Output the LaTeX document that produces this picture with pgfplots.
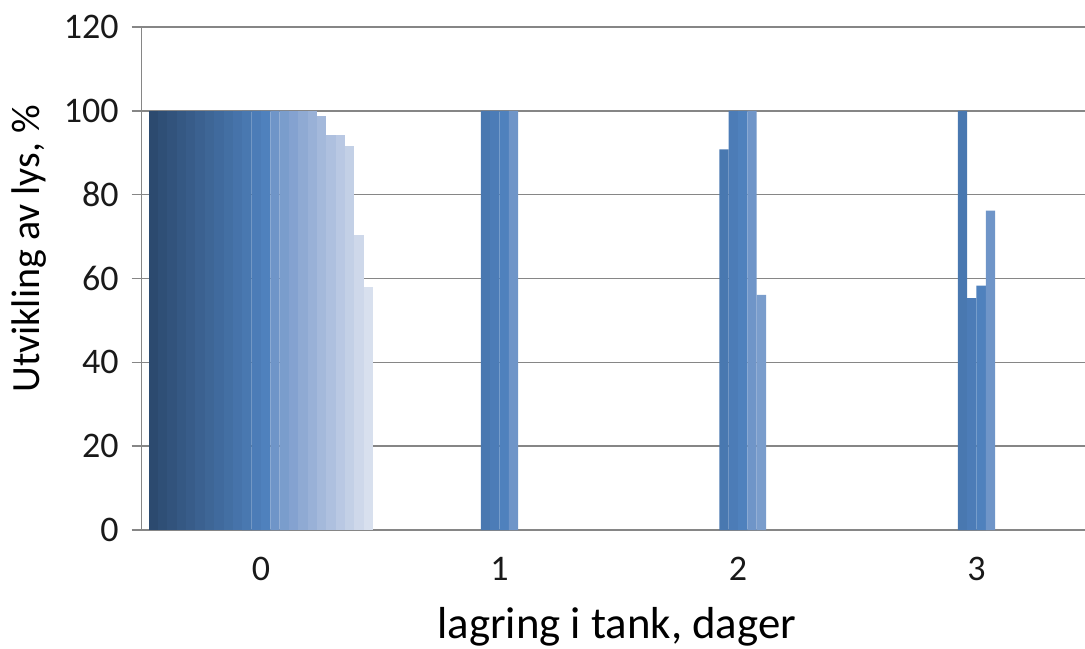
\documentclass[border=0pt]{standalone}
\usepackage{pgfplots}
\pgfplotsset{compat=1.18}
\usepackage{fontspec}
\setmainfont{Carlito}
\definecolor{gridgray}{RGB}{134,134,134}
\definecolor{s0}{RGB}{44,74,111}
\definecolor{s1}{RGB}{47,79,118}
\definecolor{s2}{RGB}{50,83,124}
\definecolor{s3}{RGB}{53,88,131}
\definecolor{s4}{RGB}{56,92,137}
\definecolor{s5}{RGB}{59,97,144}
\definecolor{s6}{RGB}{62,102,150}
\definecolor{s7}{RGB}{64,106,157}
\definecolor{s8}{RGB}{67,111,163}
\definecolor{s9}{RGB}{70,115,170}
\definecolor{s10}{RGB}{73,120,176}
\definecolor{s11}{RGB}{76,124,183}
\definecolor{s12}{RGB}{79,129,189}
\definecolor{s13}{RGB}{111,149,200}
\definecolor{s14}{RGB}{122,157,204}
\definecolor{s15}{RGB}{132,162,208}
\definecolor{s16}{RGB}{143,170,211}
\definecolor{s17}{RGB}{153,177,215}
\definecolor{s18}{RGB}{164,185,219}
\definecolor{s19}{RGB}{174,192,223}
\definecolor{s20}{RGB}{185,200,227}
\definecolor{s21}{RGB}{195,208,230}
\definecolor{s22}{RGB}{206,216,234}
\definecolor{s23}{RGB}{216,224,238}
\begin{document}
\begin{tikzpicture}
\begin{axis}[
  scale only axis,
  width=471.65pt, height=251.5pt,
  xmin=-0.5, xmax=3.455,
  ymin=0, ymax=120,
  ybar, bar width=0.0392157,
  axis x line=bottom, axis y line=left,
  axis line style={-, draw=gridgray, line width=0.75pt},
  ymajorgrids, grid style={gridgray, line width=0.75pt},
  xtick={0,1,2,3},
  xticklabels={0,1,2,3},
  xtick style={draw=none},
  extra x ticks={-0.5,0.5,1.5,2.5},
  extra x tick labels={},
  extra x tick style={grid=none, tick style={draw=gridgray, line width=0.75pt}},
  ytick={0,20,40,60,80,100,120},
  tick align=outside, major tick length=5pt,
  tick style={gridgray, line width=0.75pt},
  /pgf/number format/assume math mode=true,
  ticklabel style={font=\fontsize{18}{20}\selectfont, text=black!90},
  yticklabel style={xshift=-3pt},
  xticklabel style={anchor=base, yshift=-20pt},
  xlabel={lagring i tank, dager},
  ylabel={Utvikling av lys, \%},
  xlabel style={at={(axis description cs:0.5036,0)}, anchor=base, yshift=-54pt, font=\fontsize{22.4}{26}\selectfont},
  ylabel style={at={(axis description cs:-0.1195,0.559)}, anchor=center, font=\fontsize{20}{24}\selectfont},
  every axis plot/.append style={draw=none},
]
\addplot[fill=s0, bar shift=-0.450980] coordinates {(0,100)};
\addplot[fill=s1, bar shift=-0.411765] coordinates {(0,100)};
\addplot[fill=s2, bar shift=-0.372549] coordinates {(0,100)};
\addplot[fill=s3, bar shift=-0.333333] coordinates {(0,100)};
\addplot[fill=s4, bar shift=-0.294118] coordinates {(0,100)};
\addplot[fill=s5, bar shift=-0.254902] coordinates {(0,100)};
\addplot[fill=s6, bar shift=-0.215686] coordinates {(0,100)};
\addplot[fill=s7, bar shift=-0.176471] coordinates {(0,100)};
\addplot[fill=s8, bar shift=-0.137255] coordinates {(0,100)};
\addplot[fill=s9, bar shift=-0.098039] coordinates {(0,100)};
\addplot[fill=s10, bar shift=-0.058824] coordinates {(0,100) (1,100) (2,90.8) (3,100)};
\addplot[fill=s11, bar shift=-0.019608] coordinates {(0,100) (1,100) (2,100) (3,55.3)};
\addplot[fill=s12, bar shift=0.019608] coordinates {(0,100) (1,100) (2,100) (3,58.3)};
\addplot[fill=s13, bar shift=0.058824] coordinates {(0,100) (1,100) (2,100) (3,76.2)};
\addplot[fill=s14, bar shift=0.098039] coordinates {(0,100) (2,56.1)};
\addplot[fill=s15, bar shift=0.137255] coordinates {(0,100)};
\addplot[fill=s16, bar shift=0.176471] coordinates {(0,100)};
\addplot[fill=s17, bar shift=0.215686] coordinates {(0,100)};
\addplot[fill=s18, bar shift=0.254902] coordinates {(0,98.8)};
\addplot[fill=s19, bar shift=0.294118] coordinates {(0,94.2)};
\addplot[fill=s20, bar shift=0.333333] coordinates {(0,94.2)};
\addplot[fill=s21, bar shift=0.372549] coordinates {(0,91.6)};
\addplot[fill=s22, bar shift=0.411765] coordinates {(0,70.3)};
\addplot[fill=s23, bar shift=0.450980] coordinates {(0,58.0)};
\end{axis}
\pgfresetboundingbox
\useasboundingbox (-70.85pt,-59pt) rectangle (471.65pt,265pt);
\end{tikzpicture}
\end{document}
